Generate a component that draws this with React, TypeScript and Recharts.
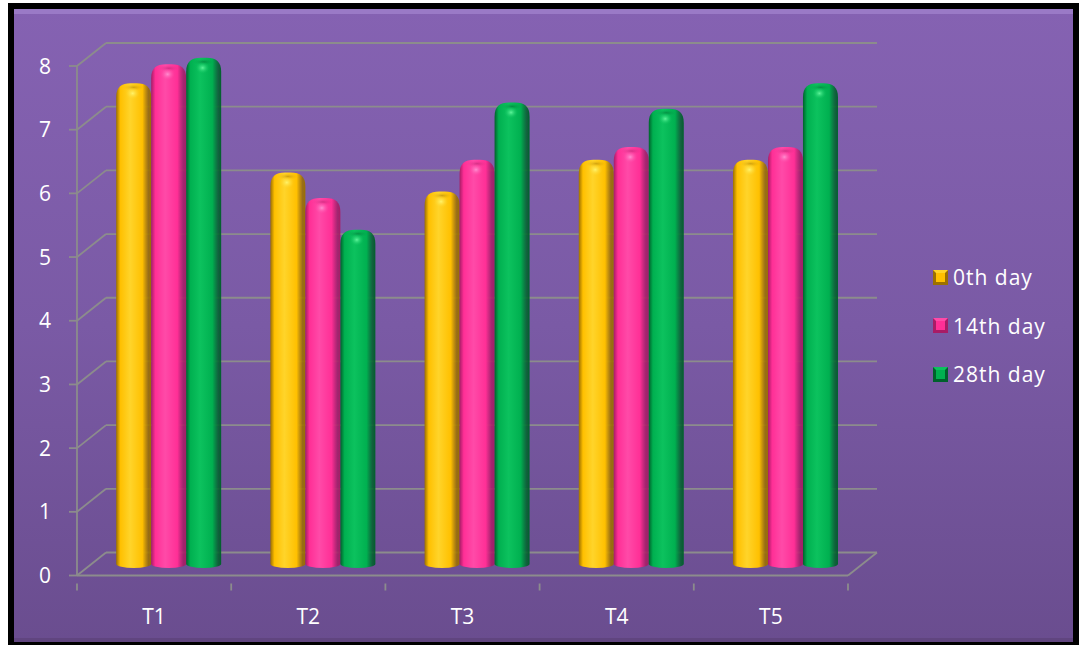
import React from 'react';
import { BarChart, Bar, XAxis, YAxis, CartesianGrid } from 'recharts';

const categories = ['T1', 'T2', 'T3', 'T4', 'T5'];
const day0 = [7.5, 6.1, 5.8, 6.3, 6.3];
const day14 = [7.8, 5.7, 6.3, 6.5, 6.5];
const day28 = [7.9, 5.2, 7.2, 7.1, 7.5];
const seriesNames = ['0th day', '14th day', '28th day'];
const yTicks = [0, 1, 2, 3, 4, 5, 6, 7, 8];

const data = categories.map((c, i) => ({ name: c, d0: day0[i], d14: day14[i], d28: day28[i] }));

// depth of the 3d box (back wall offset)
const DX = 29;
const DY = 23;
const GRID = '#8c8c8c';
const FONT = '"Open Sans", sans-serif';

const palette = [
  { key: 'd0', id: 'cylY', dark: '#9c7000', base: '#ffc000', light: '#ffd42a', hi: '#fff36a' },
  { key: 'd14', id: 'cylP', dark: '#a81c66', base: '#ff2f96', light: '#ff4aa8', hi: '#ff8ed0' },
  { key: 'd28', id: 'cylG', dark: '#00612c', base: '#00b050', light: '#0cc25e', hi: '#5ef59a' },
];

const Cylinder = (props: any) => {
  const { x, y, width, height, gid } = props;
  if (width == null || height == null) return null;
  const w = width;
  const bx = x + DX / 2;
  const top = y - DY / 2 - 3;
  const base = y + height - DY / 2;
  const r = w * 0.42;
  const ry = 14;
  const d = `M${bx},${base} L${bx},${top + ry} C${bx},${top + 4} ${bx + 5},${top} ${bx + r},${top} L${bx + w - r},${top} C${bx + w - 5},${top} ${bx + w},${top + 4} ${bx + w},${top + ry} L${bx + w},${base} A${w / 2},4 0 0 1 ${bx},${base} Z`;
  return (
    <g>
      <path d={d} fill={`url(#${gid})`} />
      <ellipse cx={bx + w / 2} cy={top + 4} rx={w / 2 - 6} ry={3.5} fill={`url(#${gid}Top)`} opacity={0.8} />
      <ellipse cx={bx + w * 0.47} cy={top + 10} rx={7} ry={6} fill={`url(#${gid}Hi)`} />
    </g>
  );
};

const GridLine = (props: any) => {
  const { x1, x2, y1, index } = props;
  return (
    <g key={`g-${index}`}>
      <line x1={x1} y1={y1} x2={x1 + DX} y2={y1 - DY} stroke={GRID} strokeWidth={1.8} />
      <line x1={x1 + DX} y1={y1 - DY} x2={x2 + DX} y2={y1 - DY} stroke={GRID} strokeWidth={1.8} />
      {index === 0 && <line x1={x2 + DX} y1={y1 - DY} x2={x2} y2={y1} stroke={GRID} strokeWidth={1.8} />}
    </g>
  );
};

const XTick = (props: any) => {
  const { x, y, payload, index } = props;
  const half = 771 / categories.length / 2;
  return (
    <g>
      <line x1={x - half} y1={y} x2={x - half} y2={y + 7} stroke={GRID} strokeWidth={1.8} />
      {index === categories.length - 1 && (
        <line x1={x + half} y1={y} x2={x + half} y2={y + 7} stroke={GRID} strokeWidth={1.8} />
      )}
      <text x={x} y={y + 40} textAnchor="middle" fill="#ffffff" fontSize={21} fontFamily={FONT}>
        {payload.value}
      </text>
    </g>
  );
};

const YTick = (props: any) => {
  const { y, payload } = props;
  return (
    <text x={45} y={y + 7.5} textAnchor="middle" fill="#ffffff" fontSize={21} fontFamily={FONT}>
      {payload.value}
    </text>
  );
};

const LegendBox = () => (
  <div style={{ position: 'absolute', left: 933, top: 253, fontFamily: FONT, color: '#ffffff', fontSize: 21, letterSpacing: 1 }}>
    {seriesNames.map((n, i) => (
      <div key={n} style={{ display: 'flex', alignItems: 'center', height: 48.5 }}>
        <span
          style={{
            width: 15,
            height: 15,
            boxSizing: 'border-box',
            marginRight: 5,
            background: palette[i].base,
            borderTop: `3px solid ${palette[i].light}`,
            borderLeft: `3px solid ${palette[i].dark}`,
            borderRight: `3px solid ${palette[i].dark}`,
            borderBottom: `3px solid ${palette[i].dark}`,
          }}
        />
        <span>{n}</span>
      </div>
    ))}
  </div>
);

export default function App() {
  return (
    <div style={{ position: 'absolute', left: 0, top: 0, width: 1079, height: 645, background: '#ffffff' }}>
      <div style={{ position: 'absolute', left: 8, top: 3, width: 1071, height: 642, background: '#000000' }} />
      <div
        style={{
          position: 'absolute',
          left: 14,
          top: 9,
          width: 1059,
          height: 633,
          background: 'linear-gradient(to bottom, #8562b2 0%, #7a5aa5 50%, #6a4d8f 100%)',
          boxShadow: 'inset 0 5px 0 #9a7ac6, inset 0 -4px 0 #60457f',
        }}
      />
      <div style={{ position: 'absolute', left: 0, top: 0 }}>
        <BarChart
          width={1079}
          height={645}
          data={data}
          margin={{ top: 66, right: 231, bottom: 29.5, left: 0 }}
          barCategoryGap="16%"
          barGap={0}
        >
          <defs>
            {palette.map((p) => (
              <React.Fragment key={p.id}>
                <linearGradient id={p.id} x1="0" y1="0" x2="1" y2="0">
                  <stop offset="0%" stopColor={p.dark} />
                  <stop offset="12%" stopColor={p.base} />
                  <stop offset="40%" stopColor={p.light} />
                  <stop offset="75%" stopColor={p.base} />
                  <stop offset="92%" stopColor={p.dark} stopOpacity={0.85} />
                  <stop offset="100%" stopColor={p.dark} />
                </linearGradient>
                <radialGradient id={`${p.id}Top`}>
                  <stop offset="0%" stopColor={p.dark} stopOpacity={0.6} />
                  <stop offset="100%" stopColor={p.base} stopOpacity={0} />
                </radialGradient>
                <radialGradient id={`${p.id}Hi`}>
                  <stop offset="0%" stopColor={p.hi} stopOpacity={1} />
                  <stop offset="100%" stopColor={p.light} stopOpacity={0} />
                </radialGradient>
              </React.Fragment>
            ))}
          </defs>
          <CartesianGrid vertical={false} horizontal={(p: any) => <GridLine {...p} />} />
          <XAxis
            dataKey="name"
            height={40}
            axisLine={{ stroke: GRID, strokeWidth: 1.8 }}
            tickLine={false}
            tick={<XTick />}
            interval={0}
          />
          <YAxis
            width={77}
            domain={[0, 8]}
            ticks={yTicks}
            interval={0}
            axisLine={{ stroke: GRID, strokeWidth: 1.8 }}
            tickLine={{ stroke: GRID, strokeWidth: 1.8 }}
            tickSize={8}
            tick={<YTick />}
          />
          {palette.map((p, i) => (
            <Bar
              key={p.key}
              dataKey={p.key}
              name={seriesNames[i]}
              fill={p.base}
              isAnimationActive={false}
              shape={(sp: any) => <Cylinder {...sp} gid={p.id} />}
            />
          ))}
        </BarChart>
      </div>
      <LegendBox />
    </div>
  );
}
